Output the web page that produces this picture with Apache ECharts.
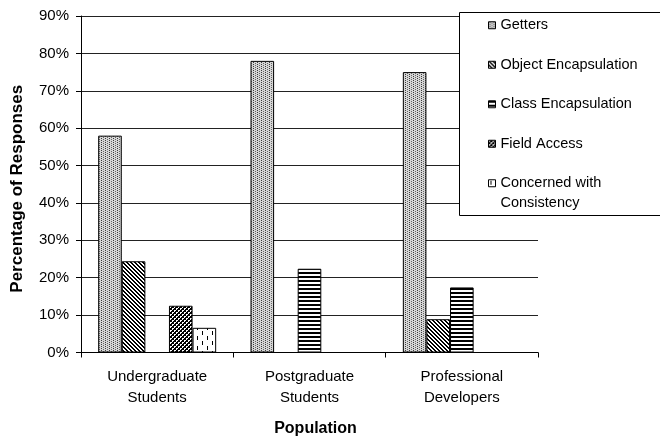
<!DOCTYPE html>
<html>
<head>
<meta charset="utf-8">
<script src="https://cdn.jsdelivr.net/npm/echarts@6/dist/echarts.min.js"></script>
<style>
html,body{margin:0;padding:0;background:#fff;}
#chart{width:660px;height:437px;}
</style>
</head>
<body>
<div id="chart"></div>
<script>
// ---- data ----
var categories = ['Undergraduate\nStudents', 'Postgraduate\nStudents', 'Professional\nDevelopers'];
var seriesNames = ['Getters', 'Object Encapsulation', 'Class Encapsulation', 'Field Access', 'Concerned with\nConsistency'];
var getters = [58, 78, 75];
var objectEncapsulation = [24.4, 0, 8.9];
var classEncapsulation = [0, 22.4, 17.4];
var fieldAccess = [12.5, 0, 0];
var concernedConsistency = [6.6, 0, 0];
var yTicks = [0, 10, 20, 30, 40, 50, 60, 70, 80, 90];

// ---- patterns ----
function makeCanvas(w, h, draw) {
  var c = document.createElement('canvas');
  c.width = w; c.height = h;
  var ctx = c.getContext('2d');
  draw(ctx, w, h);
  return c;
}
function px(ctx, x, y, col) { ctx.fillStyle = col; ctx.fillRect(x, y, 1, 1); }

var patGetters = makeCanvas(4, 4, function (ctx) {
  ctx.fillStyle = '#d6d6d6'; ctx.fillRect(0, 0, 4, 4);
  px(ctx, 1, 0, '#3a3a3a'); px(ctx, 1, 2, '#3a3a3a');
  px(ctx, 3, 1, '#666'); px(ctx, 3, 3, '#666');
});
var patObject = makeCanvas(4, 4, function (ctx) {
  ctx.fillStyle = '#fff'; ctx.fillRect(0, 0, 4, 4);
  for (var x = 0; x < 4; x++) for (var y = 0; y < 4; y++) {
    if (((x - y) % 4 + 4) % 4 < 2) px(ctx, x, y, '#000');
  }
});
var patClass = makeCanvas(4, 4, function (ctx) {
  ctx.fillStyle = '#fff'; ctx.fillRect(0, 0, 4, 4);
  ctx.fillStyle = '#000'; ctx.fillRect(0, 0, 4, 2);
});
var patField = makeCanvas(4, 4, function (ctx) {
  ctx.fillStyle = '#000'; ctx.fillRect(0, 0, 4, 4);
  px(ctx, 0, 0, '#fff'); px(ctx, 1, 0, '#fff'); px(ctx, 0, 1, '#fff');
  px(ctx, 2, 2, '#fff'); px(ctx, 3, 2, '#fff'); px(ctx, 2, 3, '#fff');
});
var patConcerned = makeCanvas(10, 10, function (ctx) {
  ctx.fillStyle = '#fff'; ctx.fillRect(0, 0, 10, 10);
  ctx.fillStyle = '#000'; ctx.fillRect(2, 1, 1, 4); ctx.fillRect(7, 6, 1, 4);
});
var patterns = [patGetters, patObject, patClass, patField, patConcerned];
var values = [getters, objectEncapsulation, classEncapsulation, fieldAccess, concernedConsistency];

var FONT = 'Liberation Sans, Arial, sans-serif';

var series = seriesNames.map(function (name, i) {
  return {
    name: name,
    type: 'bar',
    barWidth: 23.6,
    barGap: '0%',
    data: values[i],
    itemStyle: {
      color: { image: patterns[i], repeat: 'repeat' },
      borderColor: '#000',
      borderWidth: 1
    },
    emphasis: { disabled: true },
    animation: false
  };
});

var chart = echarts.init(document.getElementById('chart'), null, { renderer: 'canvas' });
chart.setOption({
  backgroundColor: '#fff',
  animation: false,
  grid: { left: 81, right: 122, top: 16, bottom: 84.5, containLabel: false, outerBoundsMode: 'none' },
  graphic: [{
    type: 'rect',
    shape: { x: 459.5, y: 12.5, width: 210, height: 203 },
    style: { fill: '#fff', stroke: '#000', lineWidth: 1 },
    z: 3
  }],
  legend: [{
    orient: 'vertical',
    left: 488, top: 15.5,
    padding: 0,
    itemWidth: 7, itemHeight: 7, itemGap: 20,
    icon: 'rect',
    selectedMode: false,
    data: seriesNames.slice(0, 4),
    itemStyle: { borderColor: '#000', borderWidth: 1 },
    textStyle: { fontFamily: FONT, fontSize: 14.5, color: '#000', lineHeight: 19.5 },
    z: 5
  }, {
    orient: 'vertical',
    left: 488, top: 154,
    padding: 0,
    itemWidth: 7, itemHeight: 7,
    icon: 'rect',
    selectedMode: false,
    data: seriesNames.slice(4),
    formatter: function (name) { return ' \n' + name; },
    itemStyle: { borderColor: '#000', borderWidth: 1 },
    textStyle: { fontFamily: FONT, fontSize: 14.5, color: '#000', lineHeight: 19.5 },
    z: 5
  }],
  xAxis: {
    type: 'category',
    data: categories,
    name: 'Population',
    nameLocation: 'middle',
    nameGap: 68,
    nameTextStyle: { fontFamily: FONT, fontSize: 16, fontWeight: 'bold', color: '#000', padding: [0, 0, 0, 12] },
    axisLine: { lineStyle: { color: '#000', width: 1 } },
    axisTick: { show: true, length: 5, lineStyle: { color: '#000' } },
    axisLabel: { fontFamily: FONT, fontSize: 15, color: '#000', lineHeight: 21, margin: 14 },
    splitLine: { show: false }
  },
  yAxis: {
    type: 'value',
    min: yTicks[0],
    max: yTicks[yTicks.length - 1],
    interval: yTicks[1] - yTicks[0],
    name: 'Percentage of Responses',
    nameLocation: 'middle',
    nameGap: 55,
    nameTextStyle: { fontFamily: FONT, fontSize: 17, fontWeight: 'bold', color: '#000', padding: [0, 9, 0, 0] },
    axisLine: { show: true, lineStyle: { color: '#000', width: 1 } },
    axisTick: { show: true, length: 5, lineStyle: { color: '#000' } },
    axisLabel: { fontFamily: FONT, fontSize: 15, color: '#000', margin: 12, formatter: '{value}%' },
    splitLine: { show: true, lineStyle: { color: '#222', width: 1 } }
  },
  series: series
});
</script>
</body>
</html>
